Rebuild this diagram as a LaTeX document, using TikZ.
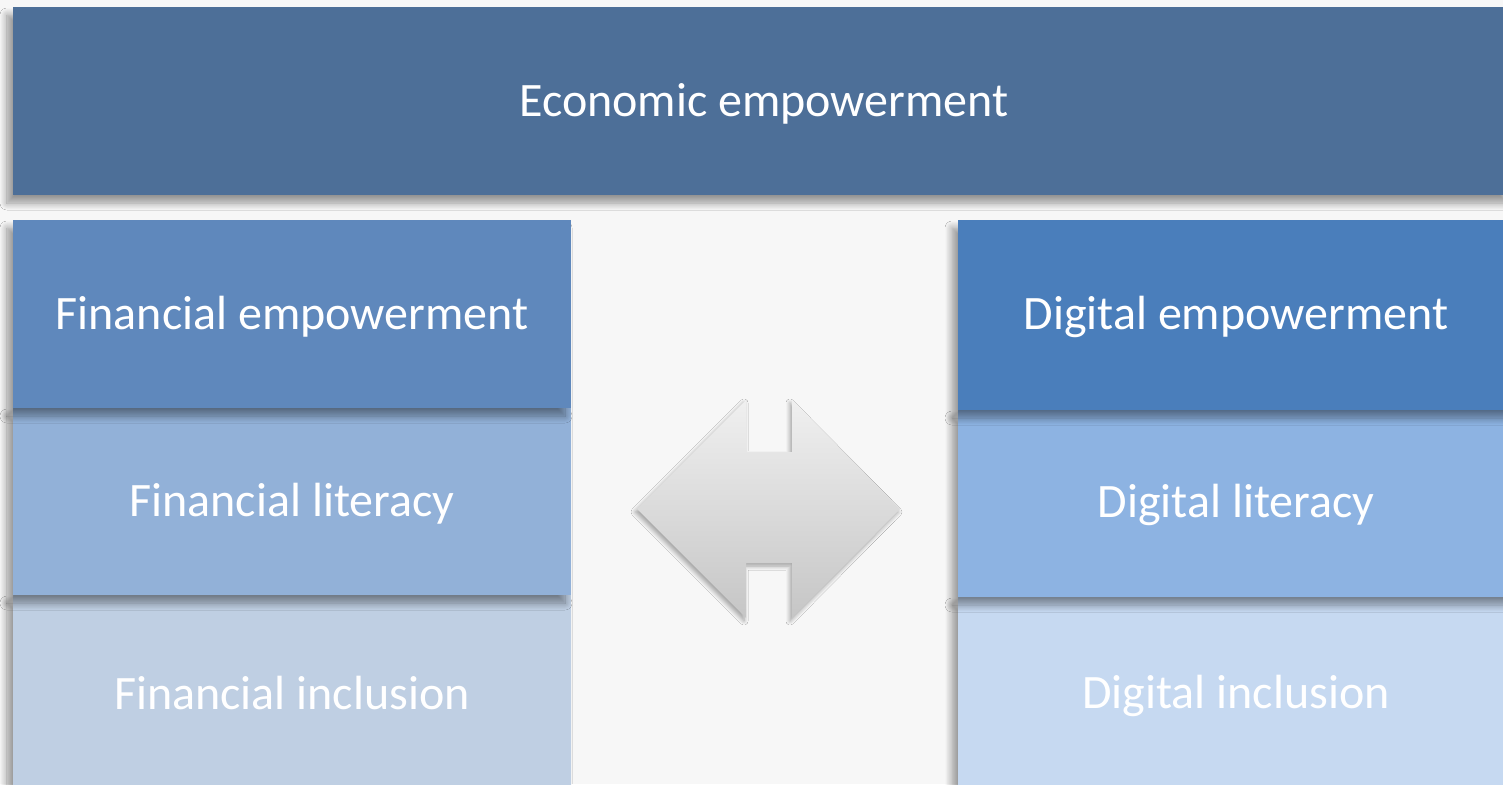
\documentclass[tikz,border=0pt]{standalone}
\usepackage{fontspec}
\setmainfont{Carlito}
\usetikzlibrary{shadows.blur}
\definecolor{bg}{HTML}{F7F7F7}
\definecolor{topc}{HTML}{4D6F98}
\definecolor{lone}{HTML}{5F88BC}
\definecolor{ltwo}{HTML}{92B1D8}
\definecolor{lthree}{HTML}{BFCFE3}
\definecolor{rone}{HTML}{4A7EBB}
\definecolor{rtwo}{HTML}{8DB3E2}
\definecolor{rthree}{HTML}{C6D9F1}
\tikzset{
  box/.style={anchor=north west, inner sep=0pt, outer sep=0pt,
    blur shadow={shadow xshift=-6pt, shadow yshift=-8pt, shadow blur steps=10, shadow blur radius=7pt, shadow opacity=40}},
  lbl/.style={text=white, inner sep=0pt, font=\fontsize{48}{58}\selectfont},
}
\begin{document}
\begin{tikzpicture}[x=1pt,y=-1pt]
\useasboundingbox (0,0) rectangle (1503,784);
\clip (0,0) rectangle (1503,784);
\fill[bg] (0,0) rectangle (1503,784);
% top banner
\node[box, fill=topc, minimum width=1500pt, minimum height=188pt] (econ) at (13,7) {};
\node[lbl] (econt) at (764,104) {Economic empowerment};
% left column (bottom first)
\node[box, fill=lthree, minimum width=558pt, minimum height=195pt] (fi) at (13,595) {};
\node[box, fill=ltwo, minimum width=558pt, minimum height=187pt] (fl) at (13,408) {};
\node[box, fill=lone, minimum width=558pt, minimum height=188pt] (fe) at (13,220) {};
\node[lbl] (fet) at ([yshift=-3pt]fe.center) {Financial empowerment};
\node[lbl] (flt) at ([yshift=-2pt]fl.center) {Financial literacy};
\node[lbl] (fit) at ([yshift=-1pt]fi.center) {Financial inclusion};
% right column
\node[box, fill=rthree, minimum width=560pt, minimum height=195pt] (di) at (958,597) {};
\node[box, fill=rtwo, minimum width=560pt, minimum height=187pt] (dl) at (958,410) {};
\node[box, fill=rone, minimum width=560pt, minimum height=190pt] (de) at (958,220) {};
\node[lbl] (det) at ([xshift=-2pt,yshift=-2pt]de.center) {Digital empowerment};
\node[lbl] (dlt) at ([xshift=-2pt,yshift=-1pt]dl.center) {Digital literacy};
\node[lbl] (dit) at ([xshift=-2pt,yshift=-1pt]di.center) {Digital inclusion};
% double arrow
\path[top color=gray!12, bottom color=gray!45,
  blur shadow={shadow xshift=-2pt, shadow yshift=-3pt, shadow blur steps=6, shadow blur radius=4pt, shadow opacity=35}]
  (637,509) -- (746,400) -- (746,452) -- (792,452) -- (792,400) -- (900,509)
  -- (792,618) -- (792,563) -- (746,563) -- (746,618) -- cycle;
\end{tikzpicture}
\end{document}
